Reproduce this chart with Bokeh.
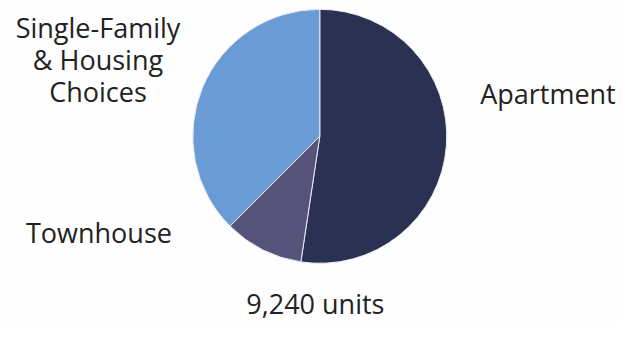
from bokeh.plotting import figure
from bokeh.models import ColumnDataSource, Range1d
from bokeh.core.properties import value
from bokeh.embed import file_html
from bokeh.resources import INLINE
import numpy as np

# Data
categories = ["Apartment", "Townhouse", "Single-Family & Housing Choices"]
units = [4840, 935, 3465]
colors = ["#2b3153", "#56527a", "#6b9bd5"]
total_label = "9,240 units"

W, H = 621, 324
RW, RH = 637, 340
sxf, syf = W / RW, H / RH

p = figure(width=W, height=H, output_backend="svg", toolbar_location=None,
           x_range=Range1d(0, W), y_range=Range1d(0, H), min_border=0,
           background_fill_color="#fefefe", border_fill_color="#fefefe")
p.axis.visible = False
p.grid.visible = False
p.outline_line_color = None

vals = np.array(units, dtype=float)
frac = vals / vals.sum()
cum = np.concatenate([[0], np.cumsum(frac)])
start = np.pi / 2 - 2 * np.pi * cum[:-1]
end = np.pi / 2 - 2 * np.pi * cum[1:]

def X(sx):
    return sx * sxf

def Y(sy):
    return H - sy * syf

src = ColumnDataSource(dict(x=[X(327.5)] * 3, y=[Y(142.5)] * 3,
                            start=list(start), end=list(end), color=colors, cat=categories))
p.wedge(x="x", y="y", radius=127, radius_units="screen", start_angle="start", end_angle="end",
        direction="clock", fill_color="color", line_color="#e8ecf4", line_width=1, source=src)

font = value("Open Sans")
tc = "#222222"
fs = "27px"

p.text(x=[X(100)] * 3, y=[Y(28), Y(62), Y(96)], text=["Single-Family", "& Housing", "Choices"],
       text_font=font, text_font_size=fs, text_color=tc, text_align="center", text_baseline="middle")
p.text(x=[X(101)], y=[Y(243)], text=[categories[1]], text_font=font, text_font_size=fs,
       text_color=tc, text_align="center", text_baseline="middle")
p.text(x=[X(492)], y=[Y(98)], text=[categories[0]], text_font=font, text_font_size=fs,
       text_color=tc, text_align="left", text_baseline="middle")
p.text(x=[X(323)], y=[Y(318)], text=[total_label], text_font=font, text_font_size=fs,
       text_color=tc, text_align="center", text_baseline="middle")

open("out.html", "w").write(file_html(p, INLINE))
